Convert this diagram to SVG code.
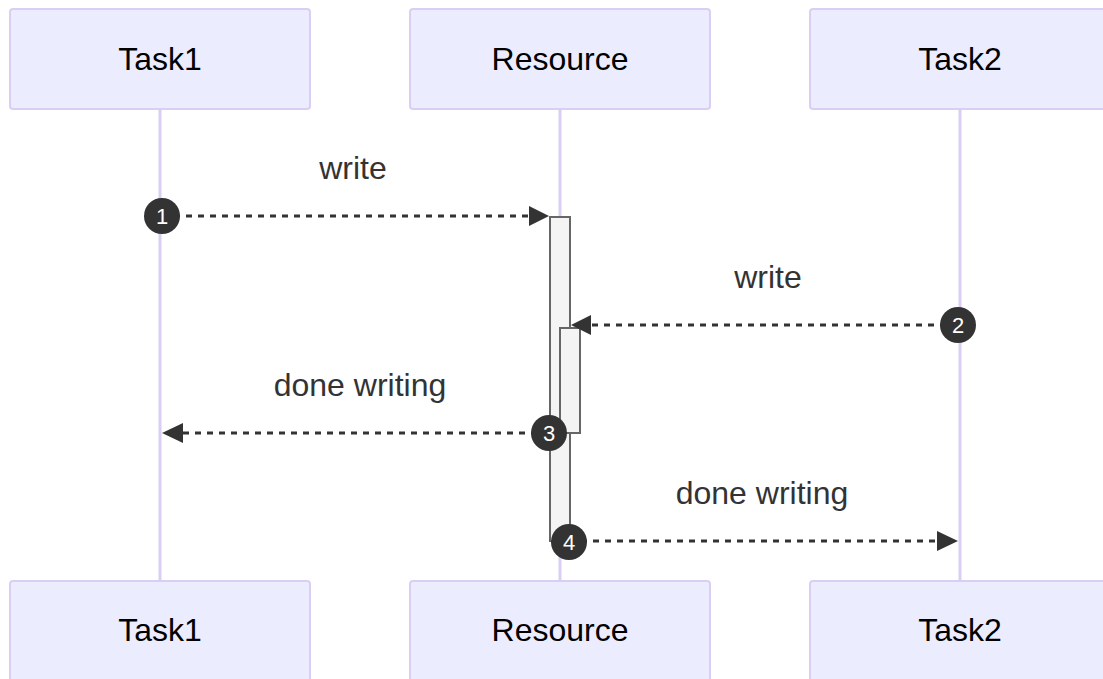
<svg xmlns="http://www.w3.org/2000/svg" width="1103" height="679" viewBox="0 0 1103 679">
<defs>
<style>
.actor{fill:#ECECFF;stroke:#DACEF3;stroke-width:2}
.atext{font-family:"Liberation Sans",Arial,sans-serif;font-size:32px;fill:#000;text-anchor:middle}
.life{stroke:#DACEF3;stroke-width:3}
.act{fill:#F4F4F4;stroke:#666;stroke-width:2}
.msg{stroke:#333;stroke-width:3;stroke-dasharray:6 6;fill:none}
.head{fill:#333}
.mtext{font-family:"Liberation Sans",Arial,sans-serif;font-size:32px;fill:#333;text-anchor:middle}
.num{fill:#333}
.ntext{font-family:"Liberation Sans",Arial,sans-serif;font-size:22px;fill:#fff;text-anchor:middle}
</style>
</defs>
<rect width="1103" height="679" fill="#fff"/>
<g id="lifelines">
<line class="life" x1="160" y1="109" x2="160" y2="581"/>
<line class="life" x1="560" y1="109" x2="560" y2="581"/>
<line class="life" x1="960" y1="109" x2="960" y2="581"/>
</g>
<g id="actor-task1-top"><rect class="actor" x="10" y="9" width="300" height="100" rx="3"/><text class="atext" x="160" y="70">Task1</text></g>
<g id="actor-resource-top"><rect class="actor" x="410" y="9" width="300" height="100" rx="3"/><text class="atext" x="560" y="70">Resource</text></g>
<g id="actor-task2-top"><rect class="actor" x="810" y="9" width="300" height="100" rx="3"/><text class="atext" x="960" y="70">Task2</text></g>
<g id="actor-task1-bottom"><rect class="actor" x="10" y="581" width="300" height="100" rx="3"/><text class="atext" x="160" y="641">Task1</text></g>
<g id="actor-resource-bottom"><rect class="actor" x="410" y="581" width="300" height="100" rx="3"/><text class="atext" x="560" y="641">Resource</text></g>
<g id="actor-task2-bottom"><rect class="actor" x="810" y="581" width="300" height="100" rx="3"/><text class="atext" x="960" y="641">Task2</text></g>
<g id="activations">
<rect class="act" x="550" y="217" width="20" height="324"/>
<rect class="act" x="560" y="328" width="20" height="105"/>
</g>
<g id="connectors">
<text class="mtext" x="353" y="179">write</text>
<line class="msg" x1="162" y1="216" x2="532" y2="216"/>
<polygon class="head" points="549,216 529,206 529,226"/>
<text class="mtext" x="768" y="288">write</text>
<line class="msg" x1="958" y1="325" x2="590" y2="325"/>
<polygon class="head" points="571,325 591,315 591,335"/>
<text class="mtext" x="360" y="396">done writing</text>
<line class="msg" x1="549" y1="433" x2="180" y2="433"/>
<polygon class="head" points="162,433 183,423 183,443"/>
<text class="mtext" x="762" y="504">done writing</text>
<line class="msg" x1="569" y1="541" x2="938" y2="541"/>
<polygon class="head" points="958,541 937,531 937,551"/>
</g>
<g id="sequence-numbers">
<circle class="num" cx="162" cy="216" r="18"/><text class="ntext" x="162" y="224">1</text>
<circle class="num" cx="958" cy="325" r="18"/><text class="ntext" x="958" y="333">2</text>
<circle class="num" cx="549" cy="433" r="18"/><text class="ntext" x="549" y="441">3</text>
<circle class="num" cx="569" cy="542" r="18"/><text class="ntext" x="569" y="550">4</text>
</g>
</svg>
